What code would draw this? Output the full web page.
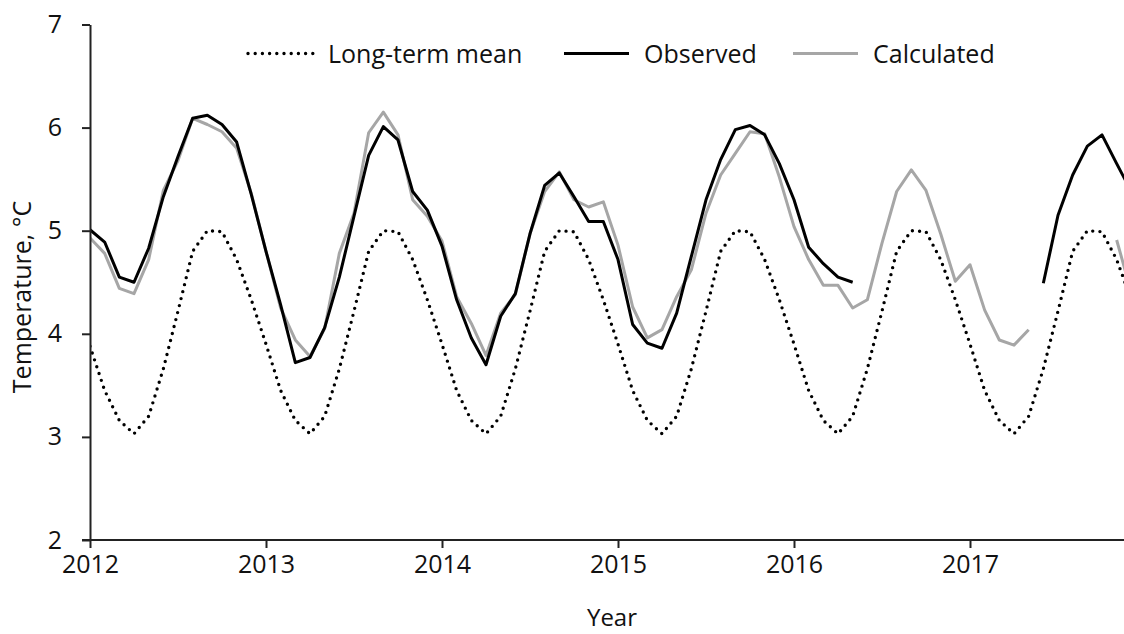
<!DOCTYPE html>
<html>
<head>
<meta charset="utf-8">
<script src="https://cdn.jsdelivr.net/npm/d3@7"></script>
<style>
  body { margin: 0; background: #fff; }
  text { font-family: 'Open Sans', sans-serif; fill: #111; }
</style>
</head>
<body>
<div id="chart"></div>
<script>
const width = 1124
const height = 634
const margin = { top: 24.5, left: 90, right: 0, bottom: 94 }

// monthly values, Jan 2012 .. Dec 2017 (null = no data)
const years = [2012, 2013, 2014, 2015, 2016, 2017]
const yTicks = [2, 3, 4, 5, 6, 7]

const longTermMean = [
  3.88, 3.45, 3.16, 3.03, 3.2, 3.66, 4.22, 4.8, 5.0, 4.99, 4.72, 4.33,
  3.9, 3.45, 3.16, 3.03, 3.2, 3.66, 4.22, 4.8, 5.0, 4.99, 4.72, 4.33,
  3.9, 3.45, 3.16, 3.03, 3.2, 3.66, 4.22, 4.8, 5.0, 4.99, 4.72, 4.33,
  3.9, 3.45, 3.16, 3.03, 3.2, 3.66, 4.22, 4.8, 5.0, 4.99, 4.72, 4.33,
  3.9, 3.45, 3.16, 3.03, 3.2, 3.66, 4.22, 4.8, 5.0, 4.99, 4.72, 4.33,
  3.9, 3.45, 3.16, 3.03, 3.2, 3.66, 4.22, 4.8, 5.0, 4.99, 4.72, 4.33
]

const observed = [
  5.01, 4.89, 4.55, 4.5, 4.83, 5.33, 5.72, 6.09, 6.12, 6.03, 5.86, 5.35,
  4.8, 4.28, 3.72, 3.77, 4.06, 4.55, 5.14, 5.73, 6.01, 5.88, 5.38, 5.2,
  4.85, 4.33, 3.96, 3.7, 4.17, 4.39, 4.97, 5.44, 5.56, 5.33, 5.09, 5.09,
  4.72, 4.09, 3.91, 3.86, 4.2, 4.75, 5.3, 5.69, 5.98, 6.02, 5.93, 5.65,
  5.3, 4.84, 4.68, 4.55, 4.5, null, null, null, null, null, null, null,
  null, null, null, null, null, 4.49, 5.15, 5.54, 5.82, 5.93, 5.65, 5.38
]

const calculated = [
  4.93, 4.78, 4.44, 4.39, 4.72, 5.39, 5.68, 6.09, 6.03, 5.96, 5.8, 5.36,
  4.8, 4.25, 3.94, 3.78, 4.05, 4.78, 5.17, 5.95, 6.15, 5.93, 5.3, 5.14,
  4.9, 4.36, 4.1, 3.79, 4.2, 4.38, 4.97, 5.38, 5.57, 5.3, 5.23, 5.28,
  4.86, 4.26, 3.96, 4.04, 4.36, 4.62, 5.17, 5.54, 5.75, 5.96, 5.94, 5.52,
  5.04, 4.72, 4.47, 4.47, 4.25, 4.33, 4.88, 5.38, 5.59, 5.39, 4.97, 4.51,
  4.67, 4.23, 3.94, 3.89, 4.04, null, null, null, null, null, 4.91, 4.4
]

const svg = d3
  .select('#chart')
  .append('svg')
  .attr('width', width)
  .attr('height', height)

const x = d3
  .scaleLinear()
  .domain([2012, 2017.875])
  .range([margin.left, width - margin.right])

const y = d3
  .scaleLinear()
  .domain([2, 7])
  .range([height - margin.bottom, margin.top])

const monthX = i => x(2012 + i / 12)

svg
  .append('clipPath')
  .attr('id', 'plot')
  .append('rect')
  .attr('x', margin.left)
  .attr('y', 0)
  .attr('width', width - margin.left)
  .attr('height', height - margin.bottom)

const line = d3
  .line()
  .defined(d => d !== null)
  .x((d, i) => monthX(i))
  .y(d => y(d))

const lines = svg.append('g').attr('clip-path', 'url(#plot)')

lines
  .append('path')
  .datum(longTermMean)
  .attr('d', line)
  .attr('fill', 'none')
  .attr('stroke', '#000')
  .attr('stroke-width', 3.4)
  .attr('stroke-linecap', 'round')
  .attr('stroke-dasharray', '0,7.2')

lines
  .append('path')
  .datum(calculated)
  .attr('d', line)
  .attr('fill', 'none')
  .attr('stroke', '#a6a6a6')
  .attr('stroke-width', 3)
  .attr('stroke-linejoin', 'round')

lines
  .append('path')
  .datum(observed)
  .attr('d', line)
  .attr('fill', 'none')
  .attr('stroke', '#000')
  .attr('stroke-width', 3)
  .attr('stroke-linejoin', 'round')

// axes
const xAxis = svg
  .append('g')
  .attr('transform', `translate(0,${y(2)})`)
  .call(
    d3
      .axisBottom(x)
      .tickValues(years)
      .tickFormat(d3.format('d'))
      .tickSize(8)
      .tickSizeOuter(0)
  )

const yAxis = svg
  .append('g')
  .attr('transform', `translate(${margin.left},0)`)
  .call(
    d3
      .axisLeft(y)
      .tickValues(yTicks)
      .tickFormat(d3.format('d'))
      .tickSize(8)
      .tickSizeOuter(0)
  )

xAxis.select('.domain').attr('d', `M${margin.left - 8},0H${width}`)

svg.selectAll('.domain, .tick line').attr('stroke', '#222').attr('stroke-width', 2)
svg
  .selectAll('.tick text')
  .attr('font-family', 'Open Sans, sans-serif')
  .attr('font-size', 25)
  .attr('fill', '#111')

xAxis.selectAll('.tick text').attr('y', 15)
yAxis.selectAll('.tick text').attr('x', -28)

svg
  .append('text')
  .attr('x', 612)
  .attr('y', 626)
  .attr('text-anchor', 'middle')
  .attr('font-size', 24)
  .text('Year')

svg
  .append('text')
  .attr('transform', 'translate(31,297) rotate(-90)')
  .attr('text-anchor', 'middle')
  .attr('font-size', 25)
  .text('Temperature, °C')

// legend
const legend = [
  { label: 'Long-term mean', x: 248, color: '#000', dash: '0,7.2', cap: 'round', w: 3.4 },
  { label: 'Observed', x: 564, color: '#000', dash: null, cap: 'butt', w: 3 },
  { label: 'Calculated', x: 793, color: '#a6a6a6', dash: null, cap: 'butt', w: 3 }
]

const items = svg
  .selectAll('.legend')
  .data(legend)
  .enter()
  .append('g')
  .attr('class', 'legend')

items
  .append('line')
  .attr('x1', d => d.x)
  .attr('x2', d => d.x + 65)
  .attr('y1', 53.5)
  .attr('y2', 53.5)
  .attr('stroke', d => d.color)
  .attr('stroke-width', d => d.w)
  .attr('stroke-linecap', d => d.cap)
  .attr('stroke-dasharray', d => d.dash)

items
  .append('text')
  .attr('x', d => d.x + 80)
  .attr('y', 62.5)
  .attr('font-size', 25)
  .text(d => d.label)
</script>
</body>
</html>
